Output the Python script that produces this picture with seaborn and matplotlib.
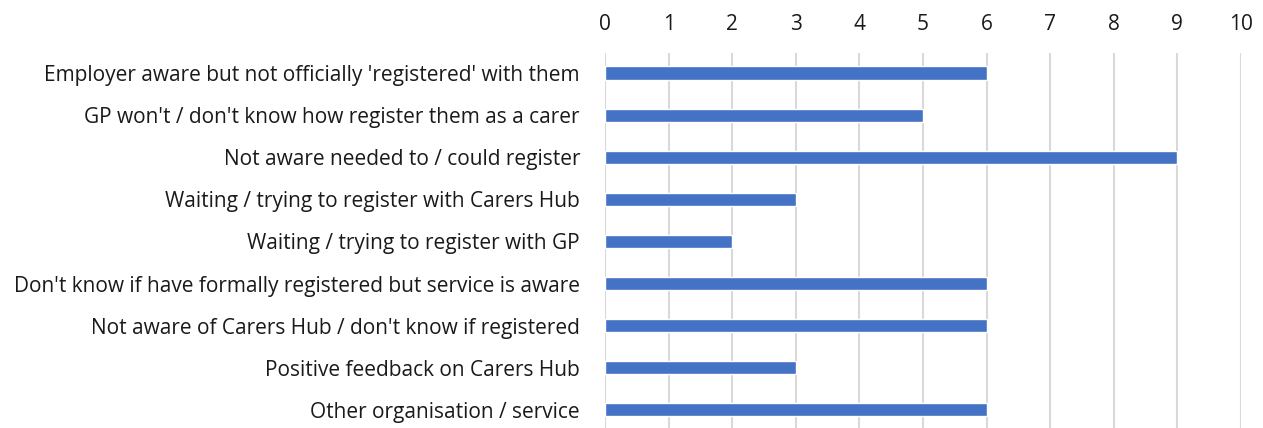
import pandas as pd
import matplotlib.pyplot as plt
import seaborn as sns

categories = [
    "Employer aware but not officially 'registered' with them",
    "GP won't / don't know how register them as a carer",
    "Not aware needed to / could register",
    "Waiting / trying to register with Carers Hub",
    "Waiting / trying to register with GP",
    "Don't know if have formally registered but service is aware",
    "Not aware of Carers Hub / don't know if registered",
    "Positive feedback on Carers Hub",
    "Other organisation / service",
]
counts = [6, 5, 9, 3, 2, 6, 6, 3, 6]

df = pd.DataFrame({"category": categories, "count": counts})

sns.set_theme(style="white")
plt.rcParams['font.family'] = ['Open Sans', 'DejaVu Sans']

fig = plt.figure(figsize=(12.63, 4.28), dpi=100)
ax = fig.add_axes([605 / 1263, 0, 636 / 1263, 1 - 53 / 428])

sns.barplot(data=df, x="count", y="category", color="#4472C4",
            width=0.31, saturation=1, ax=ax)

ax.set_xlim(0, 10)
ax.set_ylim(8.43, -0.475)
ax.set_xticks(range(0, 11))
ax.xaxis.tick_top()
ax.grid(axis="x", color="#D9D9D9", linewidth=1.5)
ax.set_axisbelow(True)
for s in ax.spines.values():
    s.set_visible(False)
ax.tick_params(axis="x", length=0, pad=13, labelsize=15, colors="#1a1a1a")
ax.tick_params(axis="y", length=0, pad=18, labelsize=15, colors="#1a1a1a")
ax.set_xlabel("")
ax.set_ylabel("")

fig.savefig("out.png", dpi=100)
